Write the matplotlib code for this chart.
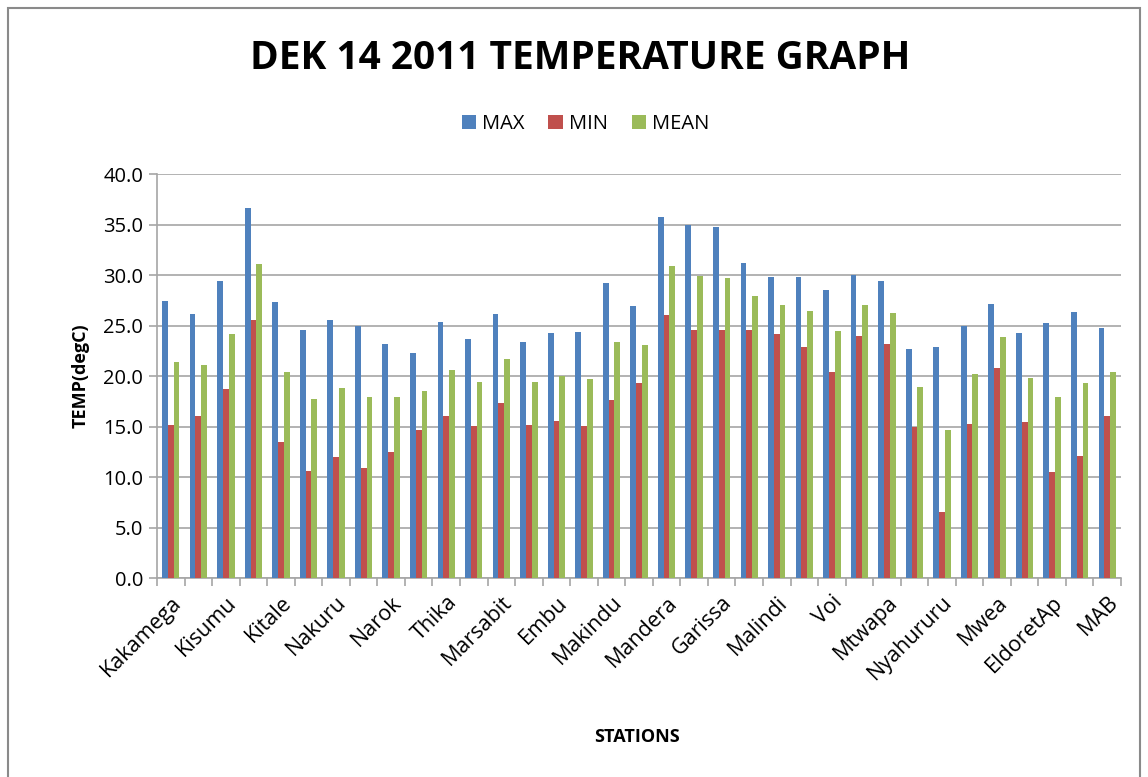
import matplotlib
matplotlib.use("Agg")
import matplotlib.pyplot as plt
import numpy as np
from matplotlib.patches import Rectangle

# visible station labels (every other category is labelled on the axis)
label_stations = ["Kakamega", "Kisumu", "Kitale", "Nakuru", "Narok", "Thika",
                  "Marsabit", "Embu", "Makindu", "Mandera", "Garissa", "Malindi",
                  "Voi", "Mtwapa", "Nyahururu", "Mwea", "EldoretAp", "MAB"]

max_t = [27.4, 26.1, 29.4, 36.6, 27.3, 24.6, 25.6, 25.0, 23.2, 22.3, 25.4, 23.7,
         26.1, 23.4, 24.3, 24.4, 29.2, 26.9, 35.7, 35.0, 34.8, 31.2, 29.8, 29.8,
         28.5, 30.0, 29.4, 22.7, 22.9, 25.0, 27.1, 24.3, 25.3, 26.3, 24.8]
min_t = [15.2, 16.0, 18.7, 25.6, 13.5, 10.6, 12.0, 10.9, 12.5, 14.7, 16.0, 15.1,
         17.3, 15.2, 15.6, 15.1, 17.6, 19.3, 26.0, 24.6, 24.6, 24.6, 24.2, 22.9,
         20.4, 24.0, 23.2, 15.0, 6.5, 15.3, 20.8, 15.5, 10.5, 12.1, 16.0]
mean_t = [21.4, 21.1, 24.2, 31.1, 20.4, 17.7, 18.8, 17.9, 17.9, 18.5, 20.6, 19.4,
          21.7, 19.4, 20.0, 19.7, 23.4, 23.1, 30.9, 29.9, 29.7, 27.9, 27.0, 26.4,
          24.5, 27.0, 26.2, 18.9, 14.7, 20.2, 23.9, 19.8, 17.9, 19.3, 20.4]
series_names = ["MAX", "MIN", "MEAN"]
yticks = [0, 5, 10, 15, 20, 25, 30, 35, 40]

colors = ["#4F81BD", "#C0504D", "#9BBB59"]
FONT = ["Open Sans", "DejaVu Sans"]
plt.rcParams['font.family'] = FONT

fig = plt.figure(figsize=(11.48, 7.77), dpi=100)
fig.patches.append(Rectangle((0.007, -0.01), 0.986, 1.0, transform=fig.transFigure,
                             fill=False, edgecolor="#8a8a8a", linewidth=1.5))

ax = fig.add_axes([0.1368, 0.256, 0.8397, 0.520])
n = len(max_t)
x = np.arange(n)
w = 0.21
for i, (vals, name) in enumerate(zip([max_t, min_t, mean_t], series_names)):
    ax.bar(x + (i - 1) * w, vals, width=w, color=colors[i], label=name, zorder=3)

ax.set_xlim(-0.5, n - 0.5)
ax.set_ylim(0, 40)
ax.set_yticks(yticks)
ax.set_yticklabels([f"{v:.1f}" for v in yticks], fontsize=14.5)
ax.yaxis.grid(True, color="#a6a6a6", linewidth=1.2, zorder=0)
ax.tick_params(axis="y", length=6, color="#a6a6a6", width=1.2, pad=4)

ax.set_xticks(np.arange(-0.5, n, 1.0), minor=True)
ax.set_xticks(x[::2])
ax.set_xticklabels(label_stations, rotation=45, ha="right", va="top",
                   rotation_mode="anchor", fontsize=15.5)
ax.tick_params(axis="x", which="major", length=0, pad=10)
ax.tick_params(axis="x", which="minor", length=6, color="#a6a6a6", width=1.2)

for s in ["top", "right"]:
    ax.spines[s].set_visible(False)
for s in ["left", "bottom"]:
    ax.spines[s].set_color("#a6a6a6")
    ax.spines[s].set_linewidth(1.2)

ax.set_ylabel("TEMP(degC)", fontsize=13, fontweight="bold", labelpad=10)
fig.text(0.555, 0.052, "STATIONS", fontsize=13, fontweight="bold", ha="center", va="center")
fig.text(0.505, 0.925, "DEK 14 2011 TEMPERATURE GRAPH", fontsize=28, fontweight="bold",
         ha="center", va="center")

fig.legend(loc="center", bbox_to_anchor=(0.51, 0.84), ncol=3, frameon=False,
           fontsize=14.5, handlelength=0.7, handleheight=0.7, handletextpad=0.3,
           columnspacing=1.2)

fig.savefig("out.png", dpi=100)
